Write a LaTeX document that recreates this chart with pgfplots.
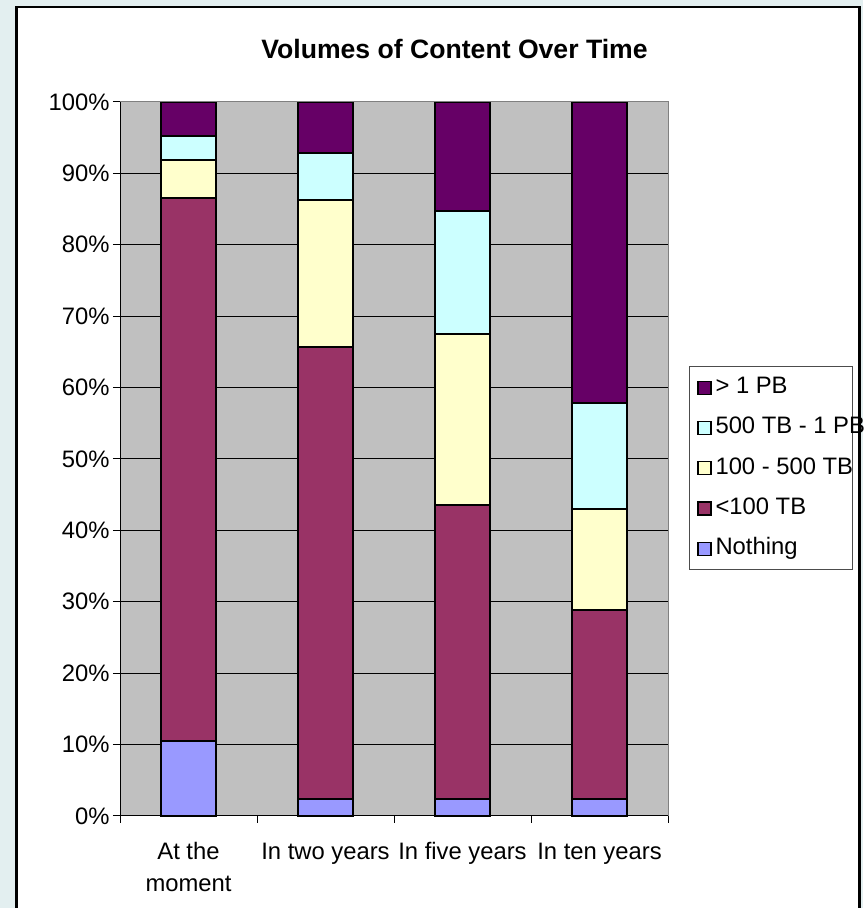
\documentclass[border=0pt]{standalone}
\usepackage{fontspec}
\setmainfont{Liberation Sans}
\usepackage{pgfplots}
\pgfplotsset{compat=1.18}
\definecolor{bgout}{RGB}{227,239,240}
\definecolor{plotgray}{RGB}{192,192,192}
\definecolor{cNothing}{RGB}{153,153,255}
\definecolor{cLow}{RGB}{153,51,102}
\definecolor{cMid}{RGB}{255,255,204}
\definecolor{cHigh}{RGB}{204,255,255}
\definecolor{cTop}{RGB}{102,0,102}
\pgfplotsset{
    xlbar/.style={
        draw=black, line width=2pt,
        legend image code/.code={\draw[##1,/tikz/.cd,line width=1.2pt] (0pt,-6.5pt) rectangle (13pt,6.5pt);},
    },
}

\begin{document}
\begin{tikzpicture}[x=1pt,y=1pt]
\useasboundingbox (0,0) rectangle (863,908);
\fill[bgout] (0,0) rectangle (863,908);
\fill[white] (16.5,-5) rectangle (859.5,901);
\draw[black, line width=2.5pt] (16.5,-5) -- (16.5,901) -- (859.5,901) -- (859.5,-5);
\node[font=\fontsize{26.6}{30}\selectfont\bfseries] at (454.5,859) {Volumes of Content Over Time};

\begin{axis}[
    at={(120pt,92pt)}, anchor=south west,
    scale only axis, width=548pt, height=714pt,
    xmin=0.5, xmax=4.5, ymin=0, ymax=100,
    ybar stacked, bar width=55pt,
    axis background/.style={fill=plotgray},
    axis line style={draw=none},
    ymajorgrids, grid style={black, line width=1pt},
    ytick={0,10,...,100},
    yticklabel={\pgfmathprintnumber{\tick}\%},
    xtick={0.5,1.5,2.5,3.5,4.5}, xticklabels={},
    extra x ticks={1,2,3,4},
    extra x tick labels={\strut At the\\moment, \strut In two years, \strut In five years, \strut In ten years},
    extra x tick style={major tick length=0pt},
    tick align=outside, xtick pos=lower, ytick pos=left,
    major tick length=7pt,
    tick style={black, line width=1pt},
    tick label style={font=\fontsize{23.8}{32}\selectfont},
    x tick label style={align=center, yshift=-18pt},
    /pgf/number format/assume math mode=true,
    clip=false,
    reverse legend,
    legend cell align=left,
    legend style={at={(1.038,0.630)}, anchor=north west,
        draw=black!70, line width=1pt, fill=white,
        inner xsep=8pt, inner ysep=10pt, row sep=18.25pt, column sep=2pt,
        font=\fontsize{23.8}{27}\selectfont,
        nodes={text height=17pt, text depth=5pt, inner xsep=2pt, inner ysep=0pt}},
]
\draw[black!50, line width=1pt] (rel axis cs:0,1) -- (rel axis cs:1,1) -- (rel axis cs:1,0);
\draw[black, line width=1pt] (rel axis cs:0,1) -- (rel axis cs:0,0) -- (rel axis cs:1,0);
\addplot[xlbar, fill=cNothing] coordinates {(1,10.5) (2,2.4) (3,2.4) (4,2.4)};
\addlegendentry{\makebox[127pt][l]{Nothing}}
\addplot[xlbar, fill=cLow] coordinates {(1,76.0) (2,63.3) (3,41.2) (4,26.4)};
\addlegendentry{\makebox[127pt][l]{<100 TB}}
\addplot[xlbar, fill=cMid] coordinates {(1,5.4) (2,20.6) (3,23.9) (4,14.2)};
\addlegendentry{\makebox[127pt][l]{100 - 500 TB}}
\addplot[xlbar, fill=cHigh] coordinates {(1,3.3) (2,6.5) (3,17.3) (4,14.9)};
\addlegendentry{\makebox[127pt][l]{500 TB - 1 PB}}
\addplot[xlbar, fill=cTop] coordinates {(1,4.8) (2,7.2) (3,15.2) (4,42.1)};
\addlegendentry{\makebox[127pt][l]{> 1 PB}}
\end{axis}
\end{tikzpicture}
\end{document}
